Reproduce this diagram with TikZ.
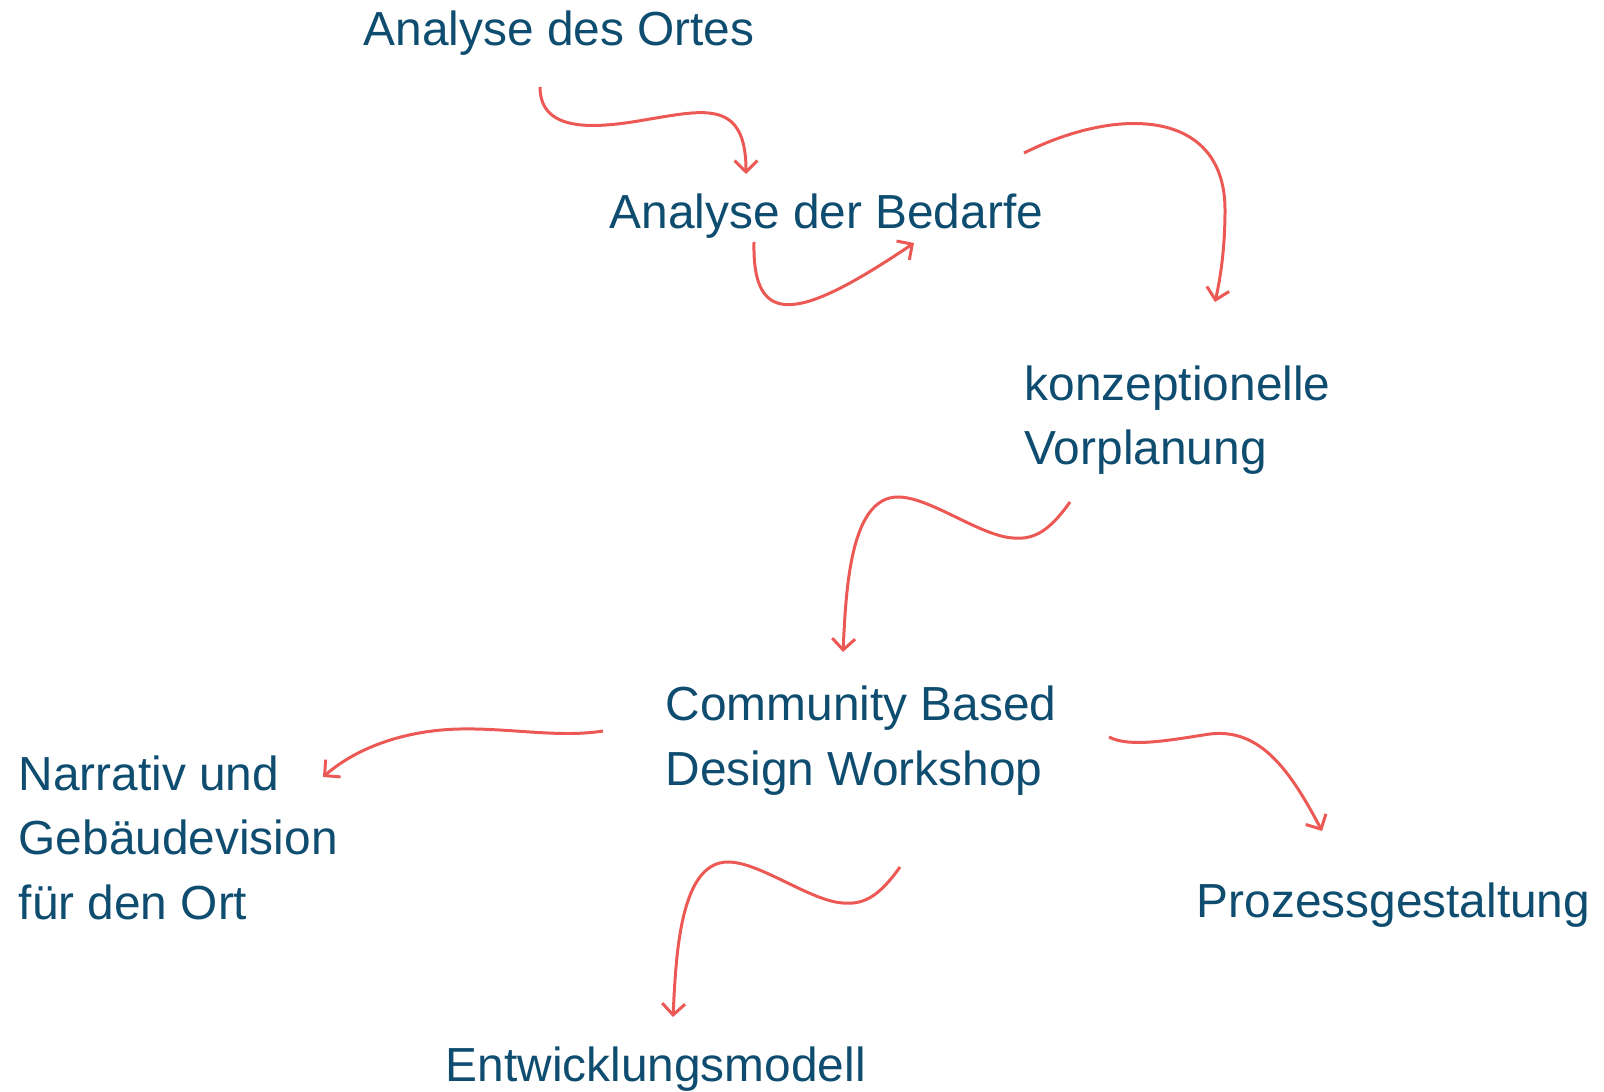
\documentclass[tikz,border=0pt]{standalone}
\usepackage{fontspec}
\setmainfont{Liberation Sans}
\usetikzlibrary{arrows.meta,positioning}
\definecolor{textblue}{RGB}{14,76,112}
\definecolor{arrowred}{RGB}{236,88,84}
\tikzset{
  phase/.style = {anchor=base west, inner sep=0pt, align=left, text=textblue,
    font=\fontsize{13.6}{18.3}\selectfont},
  flow/.style = {draw=arrowred, line width=0.85pt,
    -{Straight Barb[length=3.2pt,width=6.5pt]}}
}
\begin{document}
\begin{tikzpicture}[x=0.01cm, y=-0.01cm]
    \useasboundingbox (0,0) rectangle (1604,1092);

    % phases
    \node(ortes) [phase] at (363,46) {Analyse des Ortes};
    \node(bedarfe) [phase] at (609,229) {Analyse der Bedarfe};
    \node(vorplanung) [phase] at (1024,465) {konzeptionelle\\Vorplanung};
    \node(workshop) [phase] at (665,785) {Community Based\\Design Workshop};
    \node(narrativ) [phase] at (18,919) {Narrativ und\\Gebäudevision\\für den Ort};
    \node(prozess) [phase] at (1196,917) {Prozessgestaltung};
    \node(modell) [phase] at (445,1081) {Entwicklungsmodell};

    % loose arrow ends
    \coordinate(ortesOut) at (540,87);
    \coordinate(bedarfeIn) at (746,174);
    \coordinate(bedarfeOut) at (754,242);
    \coordinate(bedarfeBack) at (914,243);
    \coordinate(bedarfeTop) at (1024,153);
    \coordinate(vorplanungIn) at (1215,302);
    \coordinate(vorplanungOut) at (1070,502);
    \coordinate(workshopIn) at (843,652);
    \coordinate(workshopLeft) at (603,731);
    \coordinate(narrativIn) at (323,777);
    \coordinate(workshopRight) at (1109,737);
    \coordinate(prozessIn) at (1322,831);
    \coordinate(workshopDown) at (900,867);
    \coordinate(modellIn) at (673,1017);

    \draw[flow] (ortesOut) .. controls (540,135) and (600,128) .. (650,119)
        .. controls (705,110) and (746,100) .. (bedarfeIn);
    \draw[flow] (bedarfeOut) .. controls (752,330) and (800,320) .. (bedarfeBack);
    \draw[flow] (bedarfeTop) .. controls (1120,105) and (1225,110) .. (1225,210)
        .. controls (1225,250) and (1220,280) .. (vorplanungIn);
    \draw[flow] (vorplanungOut) .. controls (1050,530) and (1035,540) .. (1013,538)
        .. controls (980,536) and (930,497) .. (898,497)
        .. controls (850,497) and (846,590) .. (workshopIn);
    \draw[flow] (workshopLeft) .. controls (560,738) and (510,728) .. (460,729)
        .. controls (410,730) and (360,745) .. (narrativIn);
    \draw[flow] (workshopRight) .. controls (1130,748) and (1170,740) .. (1210,734)
        .. controls (1260,728) and (1290,770) .. (prozessIn);
    \draw[flow] (workshopDown) .. controls (880,895) and (865,905) .. (843,903)
        .. controls (810,901) and (760,862) .. (728,862)
        .. controls (680,862) and (676,955) .. (modellIn);
\end{tikzpicture}
\end{document}
